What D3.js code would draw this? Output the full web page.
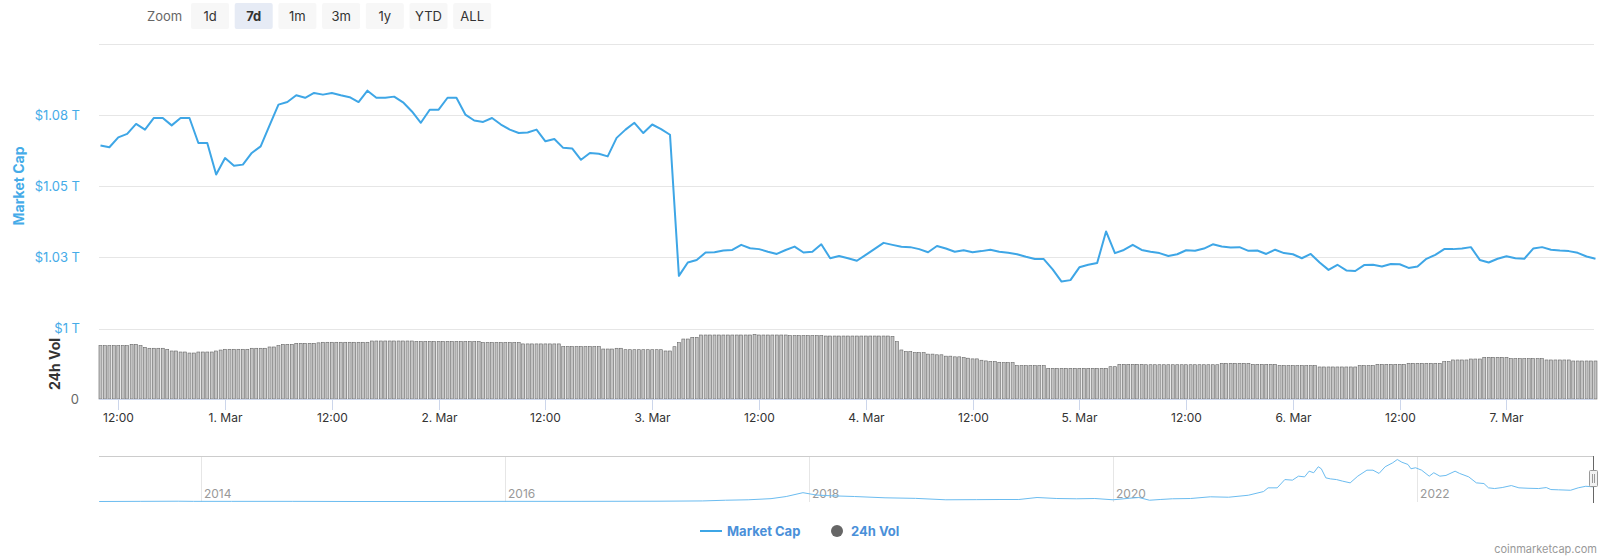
<!DOCTYPE html>
<html><head><meta charset="utf-8">
<script src="https://cdn.jsdelivr.net/npm/d3@7"></script>
<style>body{margin:0;background:#fff;} svg{display:block;font-family:Inter,"Noto Sans",sans-serif;}</style>
</head><body><svg id="c" width="1600" height="558"></svg>
<script>
// ---- data ----
const seriesStart = new Date(2023, 1, 28, 10, 0); // hourly market cap from 28 Feb 10:00
const marketCap = [
1.0643,1.0637,1.0672,1.0684,1.0719,1.0699,1.0740,1.0740,1.0714,1.0740,
1.0740,1.0652,1.0652,1.0541,1.0599,1.0572,1.0576,1.0617,1.0640,1.0714,
1.0787,1.0796,1.0820,1.0811,1.0828,1.0822,1.0828,1.0820,1.0813,1.0796,
1.0836,1.0811,1.0811,1.0815,1.0795,1.0763,1.0723,1.0769,1.0769,1.0811,
1.0811,1.0752,1.0731,1.0726,1.0740,1.0717,1.0699,1.0687,1.0689,1.0699,
1.0658,1.0666,1.0635,1.0633,1.0593,1.0617,1.0614,1.0605,1.0670,1.0699,
1.0723,1.0687,1.0717,1.0701,1.0681,1.0185,1.0232,1.0241,1.0267,1.0268,
1.0274,1.0276,1.0294,1.0282,1.0279,1.0270,1.0262,1.0276,1.0288,1.0267,
1.0270,1.0296,1.0247,1.0255,1.0247,1.0238,1.0259,1.0280,1.0301,1.0294,
1.0287,1.0286,1.0279,1.0268,1.0290,1.0281,1.0270,1.0275,1.0268,1.0272,
1.0277,1.0270,1.0266,1.0261,1.0252,1.0244,1.0244,1.0208,1.0165,1.0170,
1.0215,1.0224,1.0230,1.0341,1.0265,1.0276,1.0294,1.0276,1.0270,1.0265,
1.0255,1.0261,1.0275,1.0273,1.0281,1.0296,1.0288,1.0285,1.0286,1.0273,
1.0274,1.0262,1.0277,1.0265,1.0261,1.0247,1.0262,1.0232,1.0206,1.0224,
1.0204,1.0202,1.0223,1.0224,1.0218,1.0227,1.0226,1.0213,1.0218,1.0245,
1.0259,1.0279,1.0279,1.0281,1.0286,1.0241,1.0232,1.0245,1.0254,1.0247,
1.0245,1.0281,1.0286,1.0277,1.0274,1.0272,1.0266,1.0253,1.0245];
// 24h volume (billions), every 30 minutes from 28 Feb 10:00
const volume = [
78.4,78.4,78.4,78.4,78.4,78.4,78.4,80.4,80.4,78.4,76,74.6,74.6,74.6,74.6,73.1,70.6,70.6,69.1,69.1,
67.6,67.6,69.1,69.1,69.1,69.1,70.6,72,73.1,73.1,73.1,73.1,73.1,73.1,74.6,74.6,74.6,74.6,76.5,76.5,
78.4,80.4,80.4,80.4,81.9,81.9,81.9,81.9,81.9,82.6,83.4,83.4,83.4,83.4,83.4,83.4,83.4,83.4,83.4,83.4,
83.4,85.3,85.3,85.3,85.3,85.3,85.3,85.3,85.3,85.3,85.3,84.5,84.5,84.5,84.5,84.5,84.5,84.5,84.5,84.5,
84.5,84.5,84.5,84.5,84.5,84.5,83,83,83,83,83,83,83,83,83,81,81,81,81,81,81,81,81,81,
77,77,77,77,77,77,77,77,77,73.5,73.5,73.5,74.6,74.6,72.5,72.5,72.5,72.5,72.5,72.5,72.5,72.5,72.5,
70.6,70.6,76.9,82.8,88.2,88.2,90.7,90.7,94.1,94.1,94.1,94.1,94.1,94.1,94.1,94.1,94.1,94.1,94.1,94.1,
95.1,94.1,94.1,94.1,94.1,94.1,94.1,94.1,93.1,93.1,93.1,93.1,93.1,93.1,93.1,93.1,92.6,92.6,92.6,92.6,
92.6,92.6,92.6,92.6,92.6,92.6,92.6,92.6,92.6,92.6,92.6,92,84.3,72.1,69.6,69.6,68.1,68.1,68.1,66,66,
65,65,63,63,62,62,61,60,59,59,57,56,55,55,54,53.4,53.4,53.4,49,49,49,49,49,49,49,
45.1,45.1,45.1,45.1,45.1,45.1,45.1,45.1,45.1,45.1,45.1,45.1,45.1,45.1,47.5,47.5,51,51,51,51,51,51,
50.4,50.4,50.4,50.4,50.4,50.4,50.4,50.4,50.4,50.4,50.4,50.4,50.4,50.4,50.4,50.4,50.4,
52.5,52.5,52.5,52.5,52.5,52.5,52.5,51,51,51,51,51,51,49,49,49,49,49,49,49,49,49,
47.1,47.1,47.1,47.1,47.1,47.1,47.1,47.1,47.1,49,49,49,49,51,51,51,51,51,51,51,
52.5,52.5,52.5,52.5,52.5,52.5,52.5,52.5,54.9,54.9,57.4,57.4,57.4,57.4,58.8,58.8,58.8,
61.3,61.3,61.3,61.3,61.3,61.3,59.3,59.3,59.3,59.3,59.3,59.3,59.3,59.3,
57.4,57.4,57.4,57.4,57.4,57.4,55.9,55.9,55.9,55.9,55.9,55.9];
const capTicks = [1.0, 1.025, 1.05, 1.075];
const capTickLabels = ["$1 T", "$1.03 T", "$1.05 T", "$1.08 T"];
const zoomButtons = ["1d", "7d", "1m", "3m", "1y", "YTD", "ALL"];
const navYears = [2013.33,2013.6,2013.85,2013.95,2014.2,2014.6,2015.0,2015.5,2016.0,2016.5,
2017.0,2017.3,2017.45,2017.6,2017.75,2017.85,2017.96,2018.05,2018.15,2018.3,2018.5,2018.7,2018.9,2019.1,2019.25,
2019.38,2019.5,2019.63,2019.76,2019.88,
2020.0,2020.11,2020.17,2020.24,2020.31,2020.39,2020.51,2020.64,2020.76,2020.89,2020.99,
2021.02,2021.08,2021.13,2021.18,2021.22,2021.26,2021.29,2021.32,2021.35,2021.37,2021.40,2021.43,2021.47,2021.51,2021.56,2021.61,2021.67,2021.71,2021.75,2021.79,2021.84,2021.87,2021.90,2021.94,2021.96,2021.99,
2022.03,2022.08,2022.11,2022.15,2022.19,2022.25,2022.28,2022.34,2022.39,2022.44,2022.47,2022.51,2022.56,2022.62,2022.67,2022.73,2022.80,2022.85,2022.88,2022.93,
2023.01,2023.06,2023.11,2023.16];
const navValues = [0.00,0.01,0.02,0.01,0.01,0.01,0.00,0.00,0.01,0.01,
0.02,0.04,0.09,0.12,0.20,0.35,0.62,0.45,0.40,0.35,0.26,0.22,0.12,0.13,0.14,
0.14,0.28,0.21,0.19,0.21,
0.12,0.23,0.28,0.09,0.14,0.19,0.21,0.33,0.30,0.44,0.70,
0.96,0.96,1.54,1.50,1.78,1.73,2.13,2.02,2.44,2.30,1.66,1.59,1.54,1.43,1.31,1.78,2.20,2.20,1.97,2.44,2.72,2.95,2.76,2.60,2.30,2.37,
2.20,1.78,2.02,1.78,1.83,2.13,1.97,1.73,1.31,1.26,0.96,0.91,0.98,1.12,0.96,0.93,0.91,0.98,0.84,0.82,
0.79,0.96,1.07,1.03];
const navTickYears = [2014, 2016, 2018, 2020, 2022];

// ---- chart ----
const svg = d3.select("#c");
const L = 99, R = 1594;
const blue = "#3ea6e6", labelBlue = "#45abe8";

const x = d3.scaleTime()
  .domain([new Date(2023,1,28,9,50), new Date(2023,2,7,9,50)])
  .range([L, R]);
const yCap = d3.scaleLinear().domain([1.0, 1.1]).range([328.5, 44]);
const yVol = d3.scaleLinear().domain([0, 100]).range([399, 331]);

// zoom buttons
svg.append("text").attr("x", 147).attr("y", 21).attr("font-size", 13).attr("fill", "#666").text("Zoom");
const btn = svg.append("g").selectAll("g").data(zoomButtons).join("g")
  .attr("transform", (d, i) => `translate(${191 + i * 43.7},3)`);
btn.append("rect").attr("width", 38).attr("height", 26).attr("rx", 2)
  .attr("fill", d => d === "7d" ? "#e6ebf5" : "#f7f7f7");
btn.append("text").attr("x", 19).attr("y", 18).attr("text-anchor", "middle")
  .attr("font-size", 13).attr("fill", "#333").attr("font-weight", d => d === "7d" ? "bold" : "normal").text(d => d);

// gridlines
const grid = [1.0, 1.025, 1.05, 1.075, 1.1];
svg.append("g").selectAll("line").data(grid).join("line")
  .attr("x1", L).attr("x2", R)
  .attr("y1", d => Math.round(yCap(d)) + 0.5).attr("y2", d => Math.round(yCap(d)) + 0.5)
  .attr("stroke", "#e6e6e6");

// cap axis labels
svg.append("g").selectAll("text").data(capTicks).join("text")
  .attr("x", 80).attr("y", d => yCap(d) + 4.5).attr("text-anchor", "end")
  .attr("font-size", 13).attr("fill", labelBlue).text((d, i) => capTickLabels[i]);
svg.append("text").attr("transform", "translate(24,186) rotate(-90)").attr("text-anchor", "middle")
  .attr("font-size", 14).attr("font-weight", "bold").attr("fill", labelBlue).text("Market Cap");

// volume axis
svg.append("text").attr("x", 79).attr("y", 404).attr("text-anchor", "end")
  .attr("font-size", 13).attr("fill", "#666").text("0");
svg.append("text").attr("transform", "translate(60,364) rotate(-90)").attr("text-anchor", "middle")
  .attr("font-size", 14).attr("font-weight", "bold").attr("fill", "#333").text("24h Vol");

// volume bars
const bw = 3.0;
svg.append("g").selectAll("rect").data(volume).join("rect")
  .attr("x", (d, i) => x(d3.timeMinute.offset(seriesStart, i * 30)) - bw / 2)
  .attr("y", d => yVol(d)).attr("width", bw).attr("height", d => yVol(0) - yVol(d))
  .attr("fill", "#c4c4c4").attr("stroke", "#666").attr("stroke-width", 0.6);

// x axis
svg.append("line").attr("x1", L).attr("x2", R).attr("y1", 399.5).attr("y2", 399.5).attr("stroke", "#ccd6eb");
const xt = x.ticks(d3.timeHour.every(12));
const fmt = d => d.getHours() === 0 ? d3.timeFormat("%-d. %b")(d) : d3.timeFormat("%H:%M")(d);
const xg = svg.append("g").selectAll("g").data(xt).join("g").attr("transform", d => `translate(${Math.round(x(d)) + 0.5},0)`);
xg.append("line").attr("y1", 400).attr("y2", 410).attr("stroke", "#ccd6eb");
xg.append("text").attr("y", 422).attr("text-anchor", "middle").attr("font-size", 12).attr("fill", "#333").text(fmt);

// market cap line
const line = d3.line().x((d, i) => x(d3.timeHour.offset(seriesStart, i))).y(d => yCap(d)).curve(d3.curveLinear);
svg.append("path").datum(marketCap).attr("d", line).attr("fill", "none")
  .attr("stroke", blue).attr("stroke-width", 2).attr("stroke-linejoin", "round");

// navigator
const nx = d3.scaleLinear().domain([2013.329, 2023.164]).range([L, R]);
const ny = d3.scaleLinear().domain([0, 2.95]).range([501.5, 459.5]);
svg.append("g").selectAll("line").data(navTickYears).join("line")
  .attr("x1", d => Math.round(nx(d)) + 0.5).attr("x2", d => Math.round(nx(d)) + 0.5)
  .attr("y1", 456).attr("y2", 502).attr("stroke", "#e6e6e6");
svg.append("g").selectAll("text").data(navTickYears).join("text")
  .attr("x", d => nx(d) + 3).attr("y", 498).attr("font-size", 12).attr("fill", "#999").text(d => d);
svg.append("line").attr("x1", L).attr("x2", R).attr("y1", 456.5).attr("y2", 456.5).attr("stroke", "#cccccc");
const navLine = d3.line().x((d, i) => nx(navYears[i])).y(d => ny(d));
svg.append("path").datum(navValues).attr("d", navLine).attr("fill", "none").attr("stroke", "#6bbcf0").attr("stroke-width", 1);
// handle
svg.append("line").attr("x1", 1593.5).attr("x2", 1593.5).attr("y1", 456).attr("y2", 503).attr("stroke", "#666");
svg.append("rect").attr("x", 1589.5).attr("y", 470.5).attr("width", 8).attr("height", 16).attr("rx", 1)
  .attr("fill", "#f2f2f2").attr("stroke", "#999");
svg.append("line").attr("x1", 1592.5).attr("x2", 1592.5).attr("y1", 474).attr("y2", 483).attr("stroke", "#999");
svg.append("line").attr("x1", 1594.5).attr("x2", 1594.5).attr("y1", 474).attr("y2", 483).attr("stroke", "#999");

// legend
svg.append("line").attr("x1", 700).attr("x2", 722).attr("y1", 531).attr("y2", 531).attr("stroke", blue).attr("stroke-width", 2);
svg.append("text").attr("x", 727).attr("y", 536).attr("font-size", 13).attr("font-weight", "bold").attr("fill", "#4a90d9").text("Market Cap");
svg.append("circle").attr("cx", 837).attr("cy", 531).attr("r", 6).attr("fill", "#666");
svg.append("text").attr("x", 851).attr("y", 536).attr("font-size", 13).attr("font-weight", "bold").attr("fill", "#4a90d9").text("24h Vol");

// credits
svg.append("text").attr("x", 1597).attr("y", 553).attr("text-anchor", "end").attr("font-size", 11).attr("fill", "#999").text("coinmarketcap.com");
</script></body></html>
